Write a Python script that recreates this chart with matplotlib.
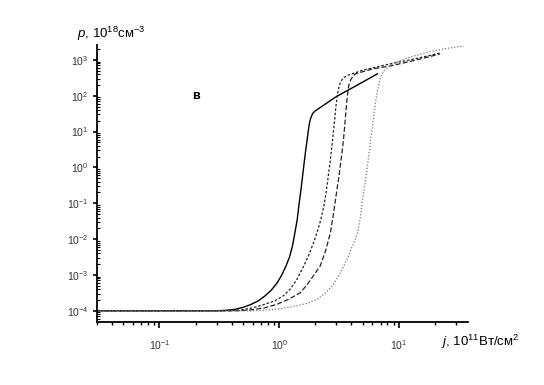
import matplotlib
matplotlib.use('Agg')
import matplotlib.pyplot as plt
import numpy as np

plt.rcParams['font.family'] = ['Liberation Sans', 'DejaVu Sans']
plt.rcParams['mathtext.fontset'] = 'custom'
plt.rcParams['mathtext.rm'] = 'Liberation Sans'
plt.rcParams['mathtext.it'] = 'Liberation Sans:italic'

# j, 10^11 W/cm^2  ->  p, 10^18 cm^-3
j_solid = [0.03, 0.30, 0.36, 0.43, 0.50, 0.58, 0.67, 0.76, 0.86, 0.96, 1.05, 1.14, 1.22, 1.29, 1.35, 1.41, 1.46, 1.52, 1.59, 1.65, 1.71, 1.75, 1.79, 1.84, 1.90, 2.0, 3.0, 4.5, 6.6]
p_solid = [1e-4, 1e-4, 1.03e-4, 1.1e-4, 1.25e-4, 1.5e-4, 1.9e-4, 2.6e-4, 3.8e-4, 6e-4, 1.0e-3, 1.8e-3, 3.2e-3, 6.5e-3, 1.5e-2, 3.4e-2, 9e-2, 0.25, 0.9, 2.5, 6.0, 11, 18, 25, 32, 38, 95, 200, 410]

j_dash1 = [0.03, 0.38, 0.47, 0.6, 0.75, 0.92, 1.08, 1.25, 1.42, 1.59, 1.76, 1.92, 2.08, 2.22, 2.35, 2.46, 2.57, 2.68, 2.78, 2.88, 2.97, 3.06, 3.14, 3.26, 3.45, 3.71, 5.0, 8.5, 14, 22]
p_dash1 = [1e-4, 1e-4, 1.05e-4, 1.2e-4, 1.5e-4, 1.9e-4, 2.6e-4, 4.2e-4, 8e-4, 1.7e-3, 3.5e-3, 7.5e-3, 1.6e-2, 3.5e-2, 8e-2, 0.2, 0.6, 1.8, 5.6, 17, 50, 110, 170, 250, 320, 370, 520, 780, 1100, 1560]

j_dash2 = [0.03, 0.45, 0.57, 0.75, 0.95, 1.2, 1.5, 1.72, 1.95, 2.2, 2.45, 2.67, 2.82, 2.94, 3.06, 3.16, 3.24, 3.34, 3.43, 3.52, 3.61, 3.70, 3.80, 3.95, 4.15, 4.33, 6.0, 8.5, 14, 22]
p_dash2 = [1e-4, 1e-4, 1.05e-4, 1.2e-4, 1.5e-4, 2.1e-4, 3.2e-4, 5.5e-4, 1.0e-3, 1.8e-3, 5e-3, 1.5e-2, 4.5e-2, 0.12, 0.3, 0.6, 1.2, 2.6, 5.6, 15, 40, 100, 190, 280, 360, 410, 560, 680, 1000, 1470]

j_dot = [0.03, 0.6, 0.79, 1.05, 1.35, 1.7, 2.08, 2.45, 2.8, 3.12, 3.43, 3.73, 4.0, 4.27, 4.5, 4.75, 4.95, 5.15, 5.35, 5.57, 5.78, 6.0, 6.2, 6.4, 6.6, 6.95, 7.4, 9.0, 11.8, 18, 25, 34.6]
p_dot = [1e-4, 1e-4, 1.05e-4, 1.15e-4, 1.35e-4, 1.6e-4, 2.1e-4, 3.2e-4, 5.2e-4, 9e-4, 1.7e-3, 3e-3, 5.5e-3, 9e-3, 1.5e-2, 4e-2, 0.12, 0.3, 0.68, 2.0, 5.6, 14, 35, 75, 138, 300, 490, 800, 1150, 1700, 2100, 2450]

fig = plt.figure(figsize=(5.44, 3.85), dpi=100)
ax = fig.add_axes([0.178, 0.164, 0.682, 0.719])

ax.loglog(j_solid, p_solid, '-', color='black', lw=1.0)
ax.loglog(j_dash1, p_dash1, color='#222222', lw=0.9, dashes=(2.0, 1.5))
ax.loglog(j_dash2, p_dash2, color='#222222', lw=0.9, dashes=(4.0, 1.8))
ax.loglog(j_dot, p_dot, color='#777777', lw=0.9, dashes=(1.0, 1.5))

ax.set_xlim(0.03, 37.5)
ax.set_ylim(4.9e-5, 2.6e3)

for s in ['top', 'right']:
    ax.spines[s].set_visible(False)
for s in ['left', 'bottom']:
    ax.spines[s].set_linewidth(1.3)

ax.set_xticks([0.1, 1, 10])
ax.set_yticks([1e-4, 1e-3, 1e-2, 1e-1, 1, 10, 100, 1000])
ax.yaxis.set_minor_locator(matplotlib.ticker.LogLocator(base=10, subs=np.arange(2, 10), numticks=20))
ax.yaxis.set_minor_formatter(matplotlib.ticker.NullFormatter())
ax.tick_params(axis='x', which='major', direction='out', length=4.5, width=1.2, labelsize=7.5, pad=7, labelcolor='#333333')
ax.tick_params(axis='x', which='minor', direction='out', length=2.5, width=1.0)
ax.tick_params(axis='y', which='major', direction='out', length=3, width=1.2, labelsize=7.5, pad=3, labelcolor='#333333')
ax.tick_params(axis='y', which='minor', direction='in', length=2, width=0.8)

ax.text(0.2, 100, 'в', fontsize=9, fontweight='bold', ha='center', va='center')

fig.text(0.142, 0.913, r'$\mathit{p}$, 10$^{18}$см$^{-3}$', fontsize=9.5, ha='left', va='center')
fig.text(0.81, 0.113, r'$\mathit{j}$, 10$^{11}$Вт/см$^{2}$', fontsize=9.5, ha='left', va='center')

fig.savefig('out.png', dpi=100)
